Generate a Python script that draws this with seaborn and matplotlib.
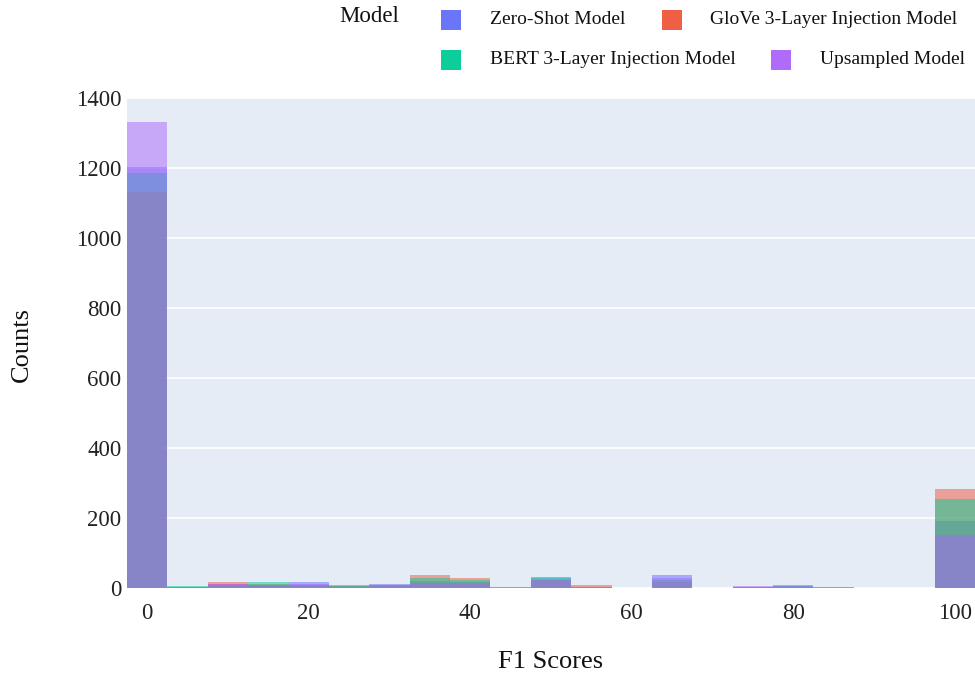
import numpy as np
import pandas as pd
import matplotlib
matplotlib.use("Agg")
import matplotlib.pyplot as plt
from matplotlib.patches import Rectangle
import seaborn as sns

# F1-score bins (centres, width 5) and per-model counts
bin_centers = [0, 5, 10, 15, 20, 25, 30, 35, 40, 45, 50, 55, 60, 65, 70, 75, 80, 85, 90, 95, 100]
zero_shot = [1203, 2, 12, 10, 16, 5, 11, 20, 18, 1, 32, 4, 0, 37, 0, 4, 10, 0, 0, 0, 191]
glove_3layer = [1131, 3, 16, 12, 10, 8, 8, 37, 28, 3, 24, 8, 0, 18, 0, 3, 4, 4, 0, 0, 283]
bert_3layer = [1186, 6, 10, 16, 8, 6, 6, 30, 22, 1, 28, 4, 0, 24, 0, 3, 6, 0, 0, 0, 254]
upsampled = [1331, 2, 12, 10, 12, 4, 8, 15, 15, 2, 24, 4, 0, 28, 0, 5, 6, 2, 0, 0, 151]

model_names = ["Zero-Shot Model", "GloVe 3-Layer Injection Model",
               "BERT 3-Layer Injection Model", "Upsampled Model"]
model_colors = ["#636EFA", "#EF553B", "#00CC96", "#AB63FA"]
x_ticks = [0, 20, 40, 60, 80, 100]
y_ticks = [0, 200, 400, 600, 800, 1000, 1200, 1400]

df = pd.DataFrame({
    "score": bin_centers * 4,
    "count": zero_shot + glove_3layer + bert_3layer + upsampled,
    "model": np.repeat(model_names, len(bin_centers)),
})

sns.set_style("whitegrid", {"axes.facecolor": "#E5ECF6", "grid.color": "white"})
plt.rcParams["font.family"] = ["Liberation Serif", "DejaVu Serif"]

fig = plt.figure(figsize=(9.75, 6.76), dpi=100)
ax = fig.add_axes([127 / 975, 88 / 676, 848 / 975, 490 / 676])

# overlaid histograms, drawn in legend order so the last model sits on top
for name, color in zip(model_names, model_colors):
    sub = df[df["model"] == name]
    sns.histplot(data=sub, x="score", weights="count",
                 binwidth=5, binrange=(-2.5, 102.5),
                 color=color, alpha=0.5, linewidth=0, element="bars",
                 ax=ax)

ax.set_xlim(-2.5, 102.5)
ax.set_ylim(0, 1400)
ax.set_xticks(x_ticks)
ax.set_yticks(y_ticks)
ax.grid(axis="x", visible=False)
ax.grid(axis="y", color="white", linewidth=1.2)
ax.set_axisbelow(True)
for s in ax.spines.values():
    s.set_visible(False)
ax.tick_params(axis="both", length=0, labelsize=16.5, labelcolor="#222222")
ax.tick_params(axis="x", pad=11)
ax.tick_params(axis="y", pad=4)

ax.set_xlabel("F1 Scores", fontsize=19, color="#111111", va="center")
ax.set_ylabel("Counts", fontsize=19, color="#111111", va="center")
ax.xaxis.set_label_coords(0.5, -0.152)
ax.yaxis.set_label_coords(-0.124, 0.496)

# horizontal legend above the plot
W, H = 975, 676
fig.text(339 / W, 1 - 17 / H, "Model", fontsize=16.5, va="center", ha="left", color="#111111")
legend_items = [
    (451, 20, 490), (672, 20, 710),
    (451, 60, 490), (781, 60, 820),
]
for (sx, sy, tx), name, color in zip(legend_items, model_names, model_colors):
    fig.patches.append(Rectangle(((sx - 10) / W, 1 - (sy + 10) / H), 20 / W, 20 / H,
                                 transform=fig.transFigure, facecolor=color,
                                 edgecolor="none", alpha=0.95))
    fig.text(tx / W, 1 - sy / H, name, fontsize=14, va="center", ha="left", color="#111111")

fig.savefig("out.png", dpi=100)
